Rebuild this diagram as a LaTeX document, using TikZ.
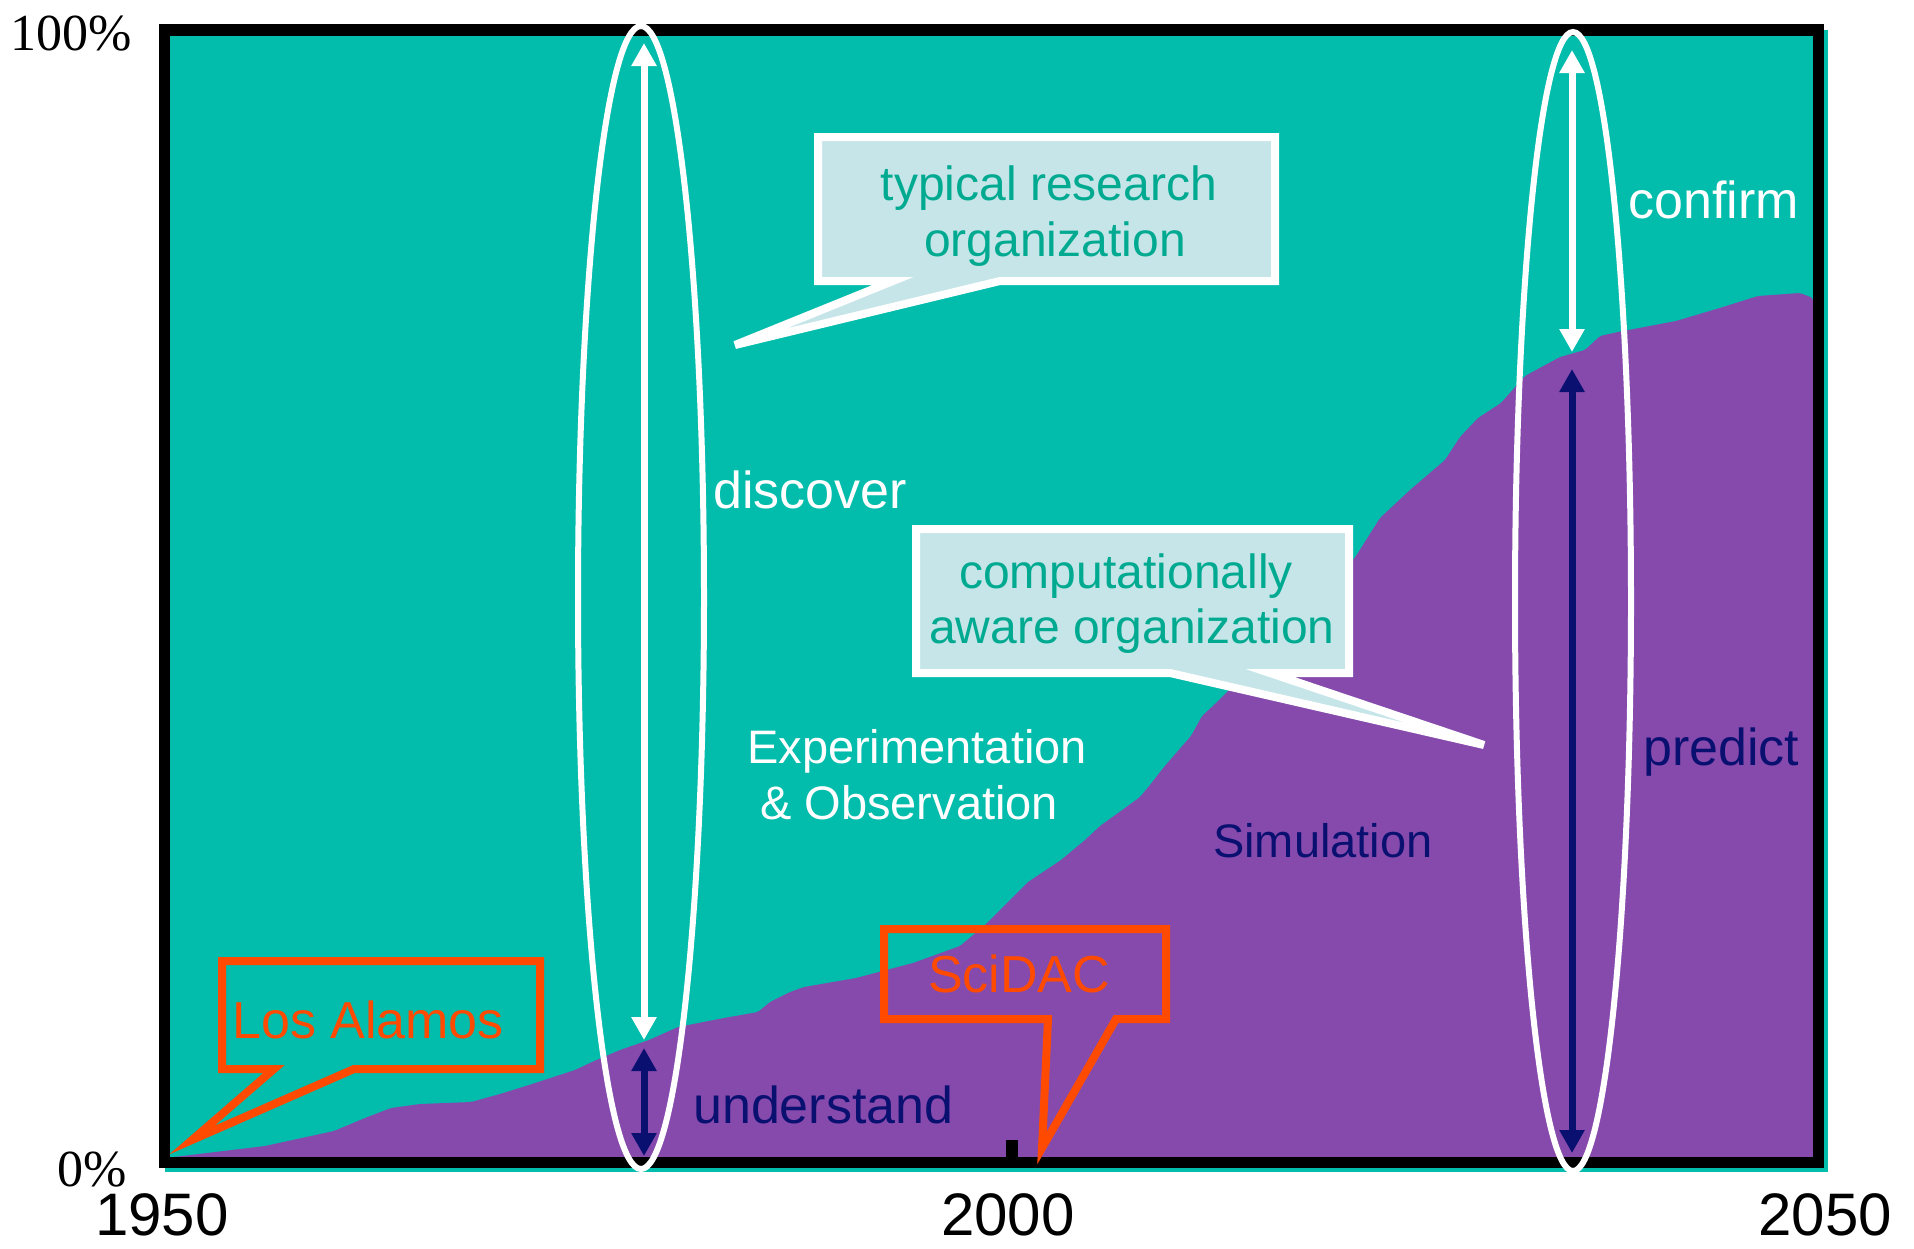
\documentclass[tikz,border=0pt]{standalone}
\usepackage{fontspec}
\setmainfont{Liberation Sans}
\newfontfamily\pctfont{Liberation Serif}
\usetikzlibrary{arrows.meta}
\definecolor{bgteal}{RGB}{2,188,172}
\definecolor{simpurple}{RGB}{134,74,173}
\definecolor{navy}{RGB}{10,16,112}
\definecolor{calloutfill}{RGB}{197,229,232}
\definecolor{callouttext}{RGB}{0,170,145}
\definecolor{orangered}{RGB}{255,74,0}
\begin{document}
\begin{tikzpicture}[x=1pt,y=-1pt,
  lbl/.style={inner sep=0pt, font=\fontsize{52}{60}\selectfont},
  mid/.style={inner sep=0pt, font=\fontsize{47}{55}\selectfont},
  ctext/.style={inner sep=0pt, text=callouttext, font=\fontsize{48}{56}\selectfont},
  yearlbl/.style={inner sep=0pt, font=\fontsize{60}{66}\selectfont},
  pctlbl/.style={inner sep=0pt, font=\pctfont\fontsize{52}{60}\selectfont},
  whitecallout/.style={fill=calloutfill, draw=white, line width=8pt, line join=miter},
  orangecallout/.style={draw=orangered, line width=8pt, line join=miter},
  oval/.style={draw=white, line width=6pt},
  wharrow/.style={draw=white, line width=7pt, {Triangle[width=24pt,length=23pt]}-{Triangle[width=24pt,length=23pt]}},
  nvarrow/.style={draw=navy, line width=7pt, {Triangle[width=24pt,length=23pt]}-{Triangle[width=24pt,length=23pt]}}
]
\useasboundingbox (0,0) rectangle (1914,1248);
\fill[white] (0,0) rectangle (1914,1248);

% background region
\fill[bgteal] (165,30) rectangle (1828,1172);

% simulation share
\fill[simpurple, rounded corners=2pt] (166,1158) -- (207,1153) -- (265,1146) -- (334,1131) -- (365,1118) -- (391,1108)
  -- (420,1104) -- (471,1102) -- (500,1094) -- (529,1085) -- (575,1070) -- (592,1062) -- (620,1050)
  -- (649,1040) -- (678,1027) -- (724,1018) -- (758,1012) -- (770,1002) -- (790,992) -- (804,987)
  -- (856,978) -- (913,963) -- (960,946) -- (985,925) -- (1000,910) -- (1028,882) -- (1061,860)
  -- (1085,840) -- (1100,826) -- (1125,808) -- (1140,797) -- (1150,785) -- (1160,772) -- (1170,760)
  -- (1191,736) -- (1202,716) -- (1214,705) -- (1244,675) -- (1290,625) -- (1330,590) -- (1356,556)
  -- (1380,518) -- (1410,490) -- (1431,472) -- (1445,460) -- (1460,437) -- (1478,418) -- (1501,403)
  -- (1525,376) -- (1560,357) -- (1585,350) -- (1600,336) -- (1618,332) -- (1676,321) -- (1723,307)
  -- (1758,296) -- (1800,293) -- (1813,298) -- (1813,1158) -- cycle;

% frame
\draw[black, line width=11.5pt, line join=miter] (164.5,30) rectangle (1818.5,1162.5);
\fill[black] (1006,1140) rectangle (1018,1158);

% callouts
\draw[orangecallout] (222,961) -- (540,961) -- (540,1069) -- (354,1069) -- (192,1140) -- (274,1069) -- (222,1069) -- cycle;
\draw[orangecallout] (884,929) -- (1166,929) -- (1166,1019) -- (1116,1019) -- (1042,1148) -- (1048,1019) -- (884,1019) -- cycle;
\path[whitecallout] (818,137) -- (1275,137) -- (1275,281) -- (1000,281) -- (735,345) -- (893,281) -- (818,281) -- cycle;
\path[whitecallout] (916,529) -- (1349,529) -- (1349,673) -- (1270,673) -- (1484,745) -- (1170,673) -- (916,673) -- cycle;

% ellipses
\draw[oval] (641,597.5) ellipse [x radius=63, y radius=571.5];
\draw[oval] (1573,601.5) ellipse [x radius=58, y radius=569.5];

% arrow end points
\coordinate (discTop) at (644,43);
\coordinate (discBot) at (644,1040);
\coordinate (undTop) at (644,1048);
\coordinate (undBot) at (644,1156);
\coordinate (confTop) at (1572,50);
\coordinate (confBot) at (1572,352);
\coordinate (predTop) at (1572,369);
\coordinate (predBot) at (1572,1153);
\draw[wharrow] (discBot) -- (discTop);
\draw[nvarrow] (undBot) -- (undTop);
\draw[wharrow] (confBot) -- (confTop);
\draw[nvarrow] (predBot) -- (predTop);

% texts
\node[lbl, text=white, anchor=base west] (confirm) at (1628,218) {confirm};
\node[lbl, text=white, anchor=base west] (discover) at (713,508) {discover};
\node[lbl, text=navy, anchor=base west] (predict) at (1643,765) {predict};
\node[lbl, text=navy, anchor=base west] (understand) at (693,1123) {understand};
\node[mid, text=navy, anchor=base west] (simulation) at (1213,857) {Simulation};
\node[mid, text=white, anchor=base west] (exp1) at (747,763) {Experimentation};
\node[mid, text=white, anchor=base west] (exp2) at (760,819) {\& Observation};
\node[ctext, anchor=base] (typ1) at (1049,200) {typical research};
\node[ctext, anchor=base] (typ2) at (1055,256) {organization};
\node[ctext, anchor=base] (comp1) at (1126,588) {computationally};
\node[ctext, anchor=base] (comp2) at (1132,643) {aware organization};
\node[lbl, text=orangered, anchor=base west] (losalamos) at (232,1038) {Los Alamos};
\node[lbl, text=orangered, anchor=base west] (scidac) at (928,992) {SciDAC};

% axes labels
\node[pctlbl, anchor=base east] (p100) at (132,50) {100\%};
\node[pctlbl, anchor=base east] (p0) at (127,1186) {0\%};
\node[yearlbl, anchor=base] (y1950) at (162,1235) {1950};
\node[yearlbl, anchor=base] (y2000) at (1008,1235) {2000};
\node[yearlbl, anchor=base] (y2050) at (1825,1235) {2050};
\end{tikzpicture}
\end{document}
